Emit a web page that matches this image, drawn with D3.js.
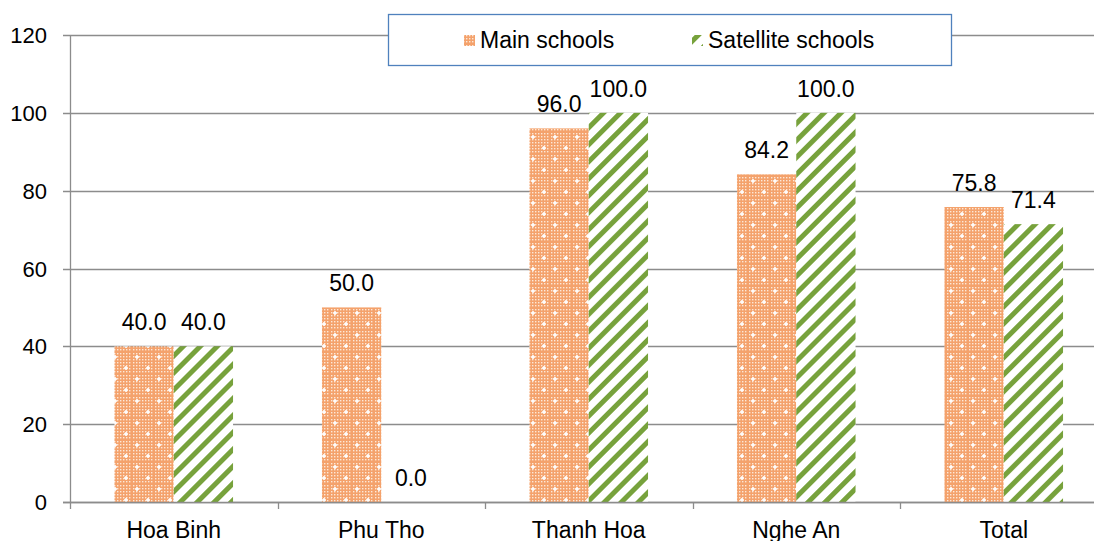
<!DOCTYPE html>
<html>
<head>
<meta charset="utf-8">
<script src="https://cdn.jsdelivr.net/npm/d3@7"></script>
<style>
  body { margin: 0; background: #fff; }
  svg { display: block; font-family: Arial, "Liberation Sans", sans-serif; }
</style>
</head>
<body>
<svg></svg>
<script>
const width = 1094;
const height = 541;

// data
const categories = ["Hoa Binh", "Phu Tho", "Thanh Hoa", "Nghe An", "Total"];
const seriesNames = ["Main schools", "Satellite schools"];
const mainSchools = [40.0, 50.0, 96.0, 84.2, 75.8];
const satelliteSchools = [40.0, 0.0, 100.0, 100.0, 71.4];
const yTicks = [0, 20, 40, 60, 80, 100, 120];

const margin = { left: 70, top: 35, bottom: 39 };
const plotRight = 1107.5;
const fontSize = 23;

const svg = d3.select("svg")
  .attr("width", width)
  .attr("height", height);

// patterns
const defs = svg.append("defs");

const pMain = defs.append("pattern")
  .attr("id", "pMain")
  .attr("patternUnits", "userSpaceOnUse")
  .attr("width", 22).attr("height", 22);
pMain.append("rect").attr("width", 22).attr("height", 22).attr("fill", "#f4a26c");
for (let i = 0; i < 22; i += 3) {
  for (let j = 0; j < 22; j += 3) {
    pMain.append("rect")
      .attr("x", i + 1).attr("y", j + 1)
      .attr("width", 1.4).attr("height", 1.4)
      .attr("fill", "#fde8d8");
  }
}
[[5, 5], [16, 16]].forEach(function (p) {
  pMain.append("rect").attr("x", p[0] - 2).attr("y", p[1] - 0.8).attr("width", 4).attr("height", 1.6).attr("fill", "#fff");
  pMain.append("rect").attr("x", p[0] - 0.8).attr("y", p[1] - 2).attr("width", 1.6).attr("height", 4).attr("fill", "#fff");
});

const pSat = defs.append("pattern")
  .attr("id", "pSat")
  .attr("patternUnits", "userSpaceOnUse")
  .attr("width", 12).attr("height", 12)
  .attr("patternTransform", "rotate(45)");
pSat.append("rect").attr("width", 12).attr("height", 12).attr("fill", "#fff");
pSat.append("rect").attr("x", 0).attr("width", 5).attr("height", 12).attr("fill", "#77a23c");

// scales
const x = d3.scaleBand()
  .domain(categories)
  .range([margin.left, plotRight]);

const y = d3.scaleLinear()
  .domain([0, 120])
  .range([height - margin.bottom, margin.top]);

const barW = x.bandwidth() / 3.5;

// gridlines
svg.append("g")
  .selectAll("line")
  .data(yTicks)
  .enter().append("line")
  .attr("x1", margin.left - 7)
  .attr("x2", width)
  .attr("y1", d => Math.round(y(d)) + 0.5)
  .attr("y2", d => Math.round(y(d)) + 0.5)
  .attr("stroke", "#8c8c8c")
  .attr("stroke-width", 1.3);

// y axis line
svg.append("line")
  .attr("x1", margin.left + 0.5).attr("x2", margin.left + 0.5)
  .attr("y1", y(120)).attr("y2", y(0) + 7)
  .attr("stroke", "#8c8c8c").attr("stroke-width", 1.3);

// y labels
svg.append("g")
  .selectAll("text")
  .data(yTicks)
  .enter().append("text")
  .attr("x", 47)
  .attr("y", d => y(d) + 8)
  .attr("text-anchor", "end")
  .attr("font-size", 22)
  .attr("fill", "#000")
  .text(d => d);

// category ticks
svg.append("g")
  .selectAll("line")
  .data(categories.slice(1))
  .enter().append("line")
  .attr("x1", d => Math.round(x(d)) + 0.5)
  .attr("x2", d => Math.round(x(d)) + 0.5)
  .attr("y1", y(0)).attr("y2", y(0) + 7)
  .attr("stroke", "#8c8c8c").attr("stroke-width", 1.3);

// category labels
svg.append("g")
  .selectAll("text")
  .data(categories)
  .enter().append("text")
  .attr("x", d => x(d) + x.bandwidth() / 2)
  .attr("y", 538)
  .attr("text-anchor", "middle")
  .attr("font-size", fontSize)
  .attr("fill", "#000")
  .text(d => d);

// bars
const series = [
  { name: seriesNames[0], values: mainSchools, fill: "url(#pMain)" },
  { name: seriesNames[1], values: satelliteSchools, fill: "url(#pSat)" }
];

series.forEach(function (s, si) {
  const g = svg.append("g");
  g.selectAll("rect")
    .data(s.values)
    .enter().append("rect")
    .attr("x", (d, i) => x(categories[i]) + x.bandwidth() / 2 - barW + si * barW)
    .attr("y", d => y(d))
    .attr("width", barW)
    .attr("height", d => y(0) - y(d))
    .attr("fill", s.fill);

  g.selectAll("text")
    .data(s.values)
    .enter().append("text")
    .attr("x", (d, i) => x(categories[i]) + x.bandwidth() / 2 - barW / 2 + si * barW)
    .attr("y", d => y(d) - 16)
    .attr("text-anchor", "middle")
    .attr("font-size", fontSize)
    .attr("fill", "#000")
    .text(d => d.toFixed(1));
});

// redraw baseline over bars
svg.append("line")
  .attr("x1", margin.left - 7).attr("x2", width)
  .attr("y1", Math.round(y(0)) + 0.5).attr("y2", Math.round(y(0)) + 0.5)
  .attr("stroke", "#8c8c8c").attr("stroke-width", 1.3);

// legend
const legend = svg.append("g");
legend.append("rect")
  .attr("x", 388.5).attr("y", 14.5)
  .attr("width", 563).attr("height", 51)
  .attr("fill", "#fff")
  .attr("stroke", "#4f81bd")
  .attr("stroke-width", 1.3);

const legendX = [464, 692];
series.forEach(function (s, i) {
  legend.append("rect")
    .attr("x", legendX[i]).attr("y", 35)
    .attr("width", 11).attr("height", 11)
    .attr("fill", s.fill);
  legend.append("text")
    .attr("x", legendX[i] + 16)
    .attr("y", 48)
    .attr("font-size", fontSize)
    .attr("fill", "#000")
    .text(s.name);
});
</script>
</body>
</html>
